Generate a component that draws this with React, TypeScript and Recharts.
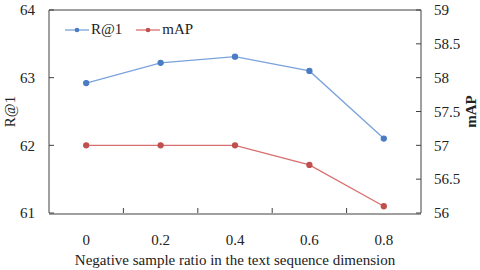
import { Label, Line, LineChart, ReferenceLine, XAxis, YAxis } from 'recharts'

const ratios = [0, 0.2, 0.4, 0.6, 0.8]
const r1Values = [62.92, 63.22, 63.31, 63.1, 62.1]
const mapValues = [57.0, 57.0, 57.0, 56.71, 56.1]
const leftTicks = [61, 62, 63, 64]
const rightTicks = [56, 56.5, 57, 57.5, 58, 58.5, 59]
const boundaryTicks = [0.1, 0.3, 0.5, 0.7]

const data = ratios.map((ratio, i) => ({
  ratio,
  r1: r1Values[i],
  map: mapValues[i],
}))

const font = 'Liberation Serif, DejaVu Serif, serif'
const axisColor = '#404040'
const blueLine = '#7aa3dc'
const blueDot = '#4a7cc4'
const redLine = '#d86f6f'
const redDot = '#c0504d'

function LegendBox() {
  const items = [
    { name: 'R@1', line: blueLine, dot: blueDot },
    { name: 'mAP', line: redLine, dot: redDot },
  ]
  return (
    <div
      style={{
        position: 'absolute',
        left: 65,
        top: 21,
        display: 'flex',
        fontFamily: font,
        fontSize: 15,
        color: '#222',
      }}
    >
      {items.map((it) => (
        <div key={it.name} style={{ display: 'flex', alignItems: 'center', marginRight: 14 }}>
          <svg width={24} height={10}>
            <line x1={0} y1={5} x2={24} y2={5} stroke={it.line} strokeWidth={1.3} />
            <circle cx={12} cy={5} r={2.3} fill={it.dot} />
          </svg>
          <span style={{ marginLeft: 2 }}>{it.name}</span>
        </div>
      ))}
    </div>
  )
}

export default function App() {
  return (
    <div style={{ position: 'absolute', left: 0, top: 0, width: 480, height: 270, background: '#fff', fontFamily: font }}>
      <LineChart width={480} height={270} data={data} margin={{ top: 10, right: 0, left: 0, bottom: 0 }}>
        <XAxis
          xAxisId='b'
          dataKey='ratio'
          type='number'
          domain={[-0.1, 0.9]}
          ticks={boundaryTicks}
          tickFormatter={() => ''}
          tickSize={-5}
          tickLine={{ stroke: axisColor }}
          axisLine={false}
          height={1}
        />
        <XAxis
          xAxisId='main'
          dataKey='ratio'
          type='number'
          domain={[-0.1, 0.9]}
          ticks={ratios}
          tickLine={false}
          axisLine={{ stroke: axisColor }}
          tick={{ fill: '#222', fontFamily: font, fontSize: 15 }}
          tickMargin={14}
          height={56}
        >
          <Label
            value='Negative sample ratio in the text sequence dimension'
            position='insideBottom'
            offset={5}
            style={{ fill: '#222', fontFamily: font, fontSize: 15 }}
          />
        </XAxis>
        <YAxis
          yAxisId='left'
          domain={[61, 64]}
          ticks={leftTicks}
          width={49}
          tickSize={-5}
          tickMargin={19}
          axisLine={{ stroke: axisColor }}
          tickLine={{ stroke: axisColor }}
          tick={{ fill: '#222', fontFamily: font, fontSize: 15 }}
        >
          <Label
            value='R@1'
            angle={-90}
            position='insideLeft'
            offset={10}
            style={{ fill: '#222', fontFamily: font, fontSize: 15, textAnchor: 'middle' }}
          />
        </YAxis>
        <YAxis
          yAxisId='right'
          orientation='right'
          domain={[56, 59]}
          ticks={rightTicks}
          width={59}
          tickSize={-5}
          tickMargin={18}
          axisLine={{ stroke: axisColor }}
          tickLine={{ stroke: axisColor }}
          tick={{ fill: '#222', fontFamily: font, fontSize: 15 }}
        >
          <Label
            value='mAP'
            angle={-90}
            position='insideRight'
            offset={9}
            style={{ fill: '#222', fontFamily: font, fontSize: 15, fontWeight: 'bold', textAnchor: 'middle' }}
          />
        </YAxis>
        <ReferenceLine yAxisId='left' xAxisId='main' y={64} stroke={axisColor} />
        <Line
          xAxisId='main'
          yAxisId='left'
          dataKey='r1'
          stroke={blueLine}
          strokeWidth={1.3}
          dot={{ r: 2.5, fill: blueDot, stroke: blueDot }}
          isAnimationActive={false}
        />
        <Line
          xAxisId='main'
          yAxisId='right'
          dataKey='map'
          stroke={redLine}
          strokeWidth={1.3}
          dot={{ r: 2.5, fill: redDot, stroke: redDot }}
          isAnimationActive={false}
        />
      </LineChart>
      <LegendBox />
    </div>
  )
}
